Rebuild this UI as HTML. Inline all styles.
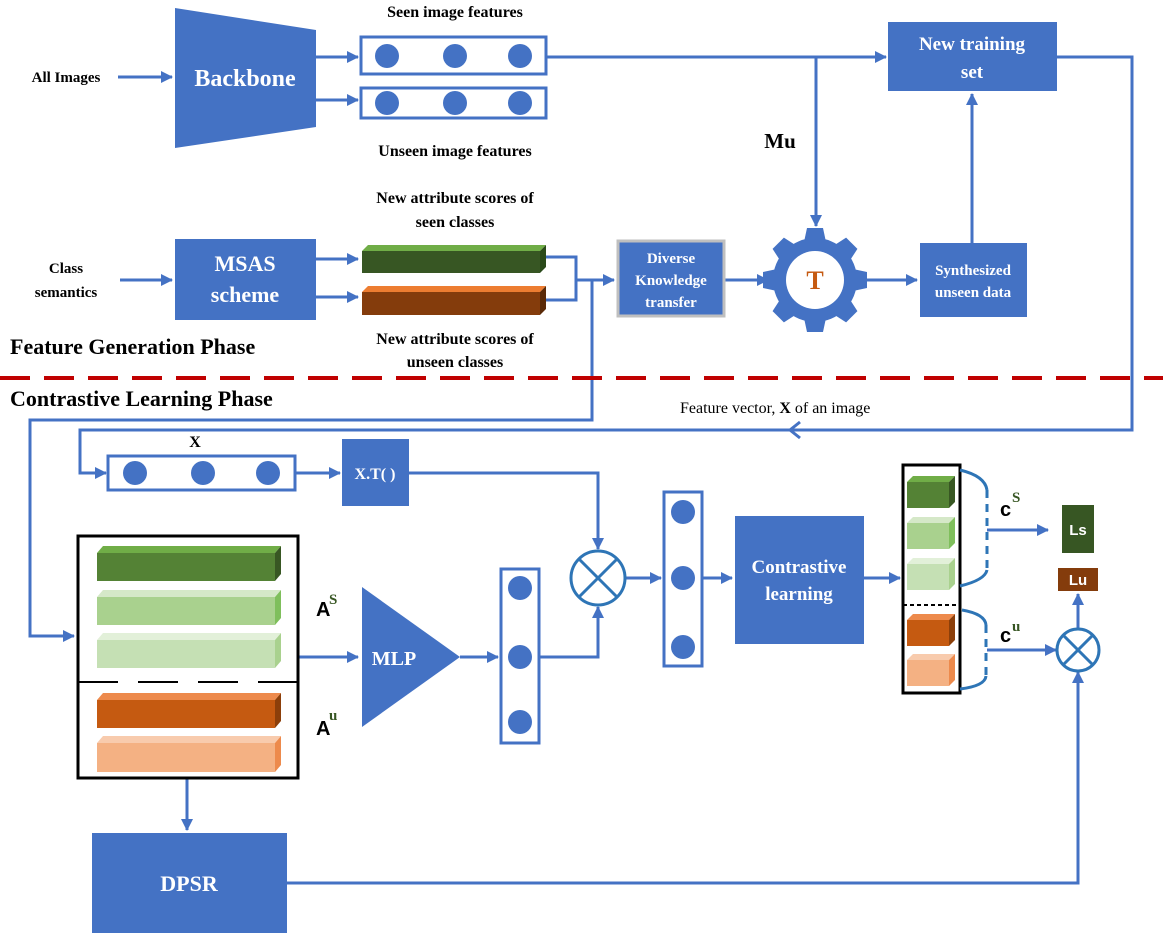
<!DOCTYPE html>
<html><head><meta charset="utf-8"><style>
body{margin:0;background:#fff}
svg{display:block}
text{font-family:"Liberation Serif",serif;font-weight:bold}
.s{font-family:"Liberation Sans",sans-serif}
.w{fill:#fff}
</style></head><body>
<svg width="1163" height="938" viewBox="0 0 1163 938" xmlns="http://www.w3.org/2000/svg">
<defs>
<marker id="a" markerWidth="12" markerHeight="12" refX="11" refY="6" orient="auto" markerUnits="userSpaceOnUse"><path d="M0,0 L12,6 L0,12 z" fill="#4472c4"/></marker>
</defs>
<g stroke="#4472c4" stroke-width="3" fill="none">
<line x1="118" y1="77" x2="172" y2="77" marker-end="url(#a)"/>
<line x1="316" y1="57" x2="358" y2="57" marker-end="url(#a)"/>
<line x1="316" y1="100" x2="358" y2="100" marker-end="url(#a)"/>
<line x1="546" y1="57" x2="886" y2="57" marker-end="url(#a)"/>
<line x1="816" y1="57" x2="816" y2="226" marker-end="url(#a)"/>
<polyline points="1057,57 1132,57 1132,430 790,430"/>
<path d="M800,422 L790,430 L800,438"/>
<polyline points="790,430 80,430 80,473 106,473" marker-end="url(#a)"/>
<line x1="295" y1="473" x2="340" y2="473" marker-end="url(#a)"/>
<polyline points="409,473 598,473 598,549" marker-end="url(#a)"/>
<line x1="120" y1="280" x2="172" y2="280" marker-end="url(#a)"/>
<line x1="316" y1="259" x2="358" y2="259" marker-end="url(#a)"/>
<line x1="316" y1="297" x2="358" y2="297" marker-end="url(#a)"/>
<polyline points="546,257 576,257 576,300 546,300"/>
<line x1="576" y1="280" x2="614" y2="280" marker-end="url(#a)"/>
<polyline points="592,280 592,420 30,420 30,636 74,636" marker-end="url(#a)"/>
<line x1="725" y1="280" x2="768" y2="280" marker-end="url(#a)"/>
<line x1="862" y1="280" x2="917" y2="280" marker-end="url(#a)"/>
<line x1="972" y1="243" x2="972" y2="94" marker-end="url(#a)"/>
<line x1="298" y1="657" x2="358" y2="657" marker-end="url(#a)"/>
<line x1="460" y1="657" x2="498" y2="657" marker-end="url(#a)"/>
<polyline points="539,657 598,657 598,607" marker-end="url(#a)"/>
<line x1="625" y1="578" x2="661" y2="578" marker-end="url(#a)"/>
<line x1="702" y1="578" x2="732" y2="578" marker-end="url(#a)"/>
<line x1="864" y1="578" x2="900" y2="578" marker-end="url(#a)"/>
<line x1="987" y1="530" x2="1048" y2="530" marker-end="url(#a)"/>
<line x1="987" y1="650" x2="1056" y2="650" marker-end="url(#a)"/>
<line x1="1078" y1="629" x2="1078" y2="594" marker-end="url(#a)"/>
<line x1="187" y1="778" x2="187" y2="830" marker-end="url(#a)"/>
<polyline points="287,883 1078,883 1078,672" marker-end="url(#a)"/>
</g>
<line x1="0" y1="378" x2="1163" y2="378" stroke="#c00000" stroke-width="4" stroke-dasharray="30 14"/>
<g font-size="15" fill="#000">
<text x="66" y="82" text-anchor="middle">All Images</text>
<text x="66" y="273" text-anchor="middle">Class</text>
<text x="66" y="297" text-anchor="middle">semantics</text>
<text x="455" y="17" text-anchor="middle" font-size="16">Seen image features</text>
<text x="455" y="156" text-anchor="middle" font-size="16">Unseen image features</text>
<text x="455" y="203" text-anchor="middle" font-size="16">New attribute scores of</text>
<text x="455" y="227" text-anchor="middle" font-size="16">seen classes</text>
<text x="455" y="344" text-anchor="middle" font-size="16">New attribute scores of</text>
<text x="455" y="367" text-anchor="middle" font-size="16">unseen classes</text>
<text x="780" y="148" text-anchor="middle" font-size="21">Mu</text>
<text x="10" y="354" font-size="22">Feature Generation Phase</text>
<text x="10" y="406" font-size="22">Contrastive Learning Phase</text>
<text x="680" y="413" style="font-weight:normal" font-size="16">Feature vector, <tspan style="font-weight:bold">X</tspan> of an image</text>
<text x="195" y="447" text-anchor="middle" font-size="16">X</text>
</g>
<polygon points="175,8 316,30 316,127 175,148" fill="#4472c4"/>
<text x="245" y="86" class="w" font-size="24" text-anchor="middle">Backbone</text>
<g stroke="#4472c4" stroke-width="3" fill="#fff">
<rect x="361" y="37" width="185" height="37"/>
<rect x="361" y="88" width="185" height="30"/>
<rect x="108" y="456" width="187" height="34"/>
<rect x="501" y="569" width="38" height="174"/>
<rect x="664" y="492" width="38" height="174"/>
</g>
<g fill="#4472c4">
<circle cx="387" cy="56" r="12"/><circle cx="455" cy="56" r="12"/><circle cx="520" cy="56" r="12"/>
<circle cx="387" cy="103" r="12"/><circle cx="455" cy="103" r="12"/><circle cx="520" cy="103" r="12"/>
<circle cx="135" cy="473" r="12"/><circle cx="203" cy="473" r="12"/><circle cx="268" cy="473" r="12"/>
<circle cx="520" cy="588" r="12"/><circle cx="520" cy="657" r="12"/><circle cx="520" cy="722" r="12"/>
<circle cx="683" cy="512" r="12"/><circle cx="683" cy="578" r="12"/><circle cx="683" cy="647" r="12"/>
<rect x="888" y="22" width="169" height="69"/>
<rect x="175" y="239" width="141" height="81"/>
<rect x="920" y="243" width="107" height="74"/>
<rect x="342" y="439" width="67" height="67"/>
<rect x="735" y="516" width="129" height="128"/>
<rect x="92" y="833" width="195" height="100"/>
<polygon points="362,587 460,657 362,727"/>
</g>
<rect x="618" y="241" width="106" height="75" fill="#4472c4" stroke="#bfbfbf" stroke-width="3"/>
<g text-anchor="middle">
<text x="972" y="50" class="w" font-size="19">New training</text>
<text x="972" y="78" class="w" font-size="19">set</text>
<text x="245" y="271" class="w" font-size="22">MSAS</text>
<text x="245" y="302" class="w" font-size="22">scheme</text>
<text x="671" y="263" class="w" font-size="15">Diverse</text>
<text x="671" y="285" class="w" font-size="15">Knowledge</text>
<text x="671" y="307" class="w" font-size="15">transfer</text>
<text x="973" y="275" class="w" font-size="15">Synthesized</text>
<text x="973" y="297" class="w" font-size="15">unseen data</text>
<text x="375" y="479" class="w" font-size="16">X.T( )</text>
<text x="799" y="573" class="w" font-size="19">Contrastive</text>
<text x="799" y="600" class="w" font-size="19">learning</text>
<text x="394" y="665" class="w" font-size="20">MLP</text>
<text x="189" y="891" class="w" font-size="22">DPSR</text>
</g>
<g fill="#4472c4" transform="translate(815,280)">
<circle r="42"/>
<g id="t"><path d="M-11,-38 L-8,-52 L8,-52 L11,-38 z"/></g>
<use href="#t" transform="rotate(45)"/><use href="#t" transform="rotate(90)"/><use href="#t" transform="rotate(135)"/>
<use href="#t" transform="rotate(180)"/><use href="#t" transform="rotate(225)"/><use href="#t" transform="rotate(270)"/><use href="#t" transform="rotate(315)"/>
<circle r="29" fill="#fff"/>
<text y="9" text-anchor="middle" font-size="26" fill="#c55a11">T</text>
</g>
<g>
<rect x="362" y="251" width="178" height="22" fill="#375623"/><polygon points="362,251 368,245 546,245 540,251" fill="#70ad47"/><polygon points="540,251 546,245 546,267 540,273" fill="#2a4a1a"/>
<rect x="362" y="292" width="178" height="23" fill="#843c0c"/><polygon points="362,292 368,286 546,286 540,292" fill="#ed7d31"/><polygon points="540,292 546,286 546,309 540,315" fill="#5a2a08"/>
</g>
<rect x="78" y="536" width="220" height="242" fill="#fff" stroke="#000" stroke-width="3"/>
<line x1="78" y1="682" x2="298" y2="682" stroke="#000" stroke-width="2" stroke-dasharray="40 20"/>
<g>
<rect x="97" y="553" width="178" height="28" fill="#548235"/><polygon points="97,553 103,546 281,546 275,553" fill="#70ad47"/><polygon points="275,553 281,546 281,574 275,581" fill="#385723"/>
<rect x="97" y="597" width="178" height="28" fill="#a9d18e"/><polygon points="97,597 103,590 281,590 275,597" fill="#d5e8c8"/><polygon points="275,597 281,590 281,618 275,625" fill="#7fbf5c"/>
<rect x="97" y="640" width="178" height="28" fill="#c5e0b4"/><polygon points="97,640 103,633 281,633 275,640" fill="#e2f0d9"/><polygon points="275,640 281,633 281,661 275,668" fill="#a9d18e"/>
<rect x="97" y="700" width="178" height="28" fill="#c55a11"/><polygon points="97,700 103,693 281,693 275,700" fill="#ed8a4c"/><polygon points="275,700 281,693 281,721 275,728" fill="#8c3f0a"/>
<rect x="97" y="743" width="178" height="29" fill="#f4b183"/><polygon points="97,743 103,736 281,736 275,743" fill="#f8cbad"/><polygon points="275,743 281,736 281,765 275,772" fill="#ed8a4c"/>
</g>
<text x="316" y="616" class="s" font-size="20">A</text><text x="329" y="604" font-size="15" fill="#375623">S</text>
<text x="316" y="735" class="s" font-size="20">A</text><text x="329" y="720" font-size="15" fill="#375623">u</text>
<rect x="903" y="465" width="57" height="228" fill="#fff" stroke="#000" stroke-width="3"/>
<line x1="903" y1="605" x2="960" y2="605" stroke="#000" stroke-width="2" stroke-dasharray="4 3"/>
<g>
<rect x="907" y="482" width="42" height="26" fill="#548235"/><polygon points="907,482 913,476 955,476 949,482" fill="#70ad47"/><polygon points="949,482 955,476 955,502 949,508" fill="#385723"/>
<rect x="907" y="523" width="42" height="26" fill="#a9d18e"/><polygon points="907,523 913,517 955,517 949,523" fill="#d5e8c8"/><polygon points="949,523 955,517 955,543 949,549" fill="#7fbf5c"/>
<rect x="907" y="564" width="42" height="26" fill="#c5e0b4"/><polygon points="907,564 913,558 955,558 949,564" fill="#e2f0d9"/><polygon points="949,564 955,558 955,584 949,590" fill="#a9d18e"/>
<rect x="907" y="620" width="42" height="26" fill="#c55a11"/><polygon points="907,620 913,614 955,614 949,620" fill="#ed8a4c"/><polygon points="949,620 955,614 955,640 949,646" fill="#8c3f0a"/>
<rect x="907" y="660" width="42" height="26" fill="#f4b183"/><polygon points="907,660 913,654 955,654 949,660" fill="#f8cbad"/><polygon points="949,660 955,654 955,680 949,686" fill="#ed8a4c"/>
</g>
<g stroke="#2e75b6" stroke-width="3" fill="none">
<path d="M960,470 Q985,476 987,490"/><path d="M960,586 Q985,580 987,570"/>
<line x1="987" y1="490" x2="987" y2="570" stroke-dasharray="8 6"/>
<path d="M962,610 Q985,614 986,625"/><path d="M960,689 Q985,686 986,676"/>
<line x1="986" y1="625" x2="986" y2="676" stroke-dasharray="8 6"/>
<circle cx="598" cy="578" r="27" fill="#fff"/>
<line x1="579" y1="559" x2="617" y2="597"/><line x1="617" y1="559" x2="579" y2="597"/>
<circle cx="1078" cy="650" r="21" fill="#fff"/>
<line x1="1063" y1="635" x2="1093" y2="665"/><line x1="1093" y1="635" x2="1063" y2="665"/>
</g>
<text x="1000" y="516" class="s" font-size="20">c</text><text x="1012" y="502" font-size="15" fill="#375623">S</text>
<text x="1000" y="642" class="s" font-size="20">c</text><text x="1012" y="631" font-size="15" fill="#375623">u</text>
<rect x="1062" y="505" width="32" height="48" fill="#375623"/>
<text x="1078" y="535" text-anchor="middle" class="s" font-size="15" fill="#fff">Ls</text>
<rect x="1058" y="568" width="40" height="23" fill="#843c0c"/>
<text x="1078" y="585" text-anchor="middle" class="s" font-size="15" fill="#fff">Lu</text>
</svg>
</body></html>
